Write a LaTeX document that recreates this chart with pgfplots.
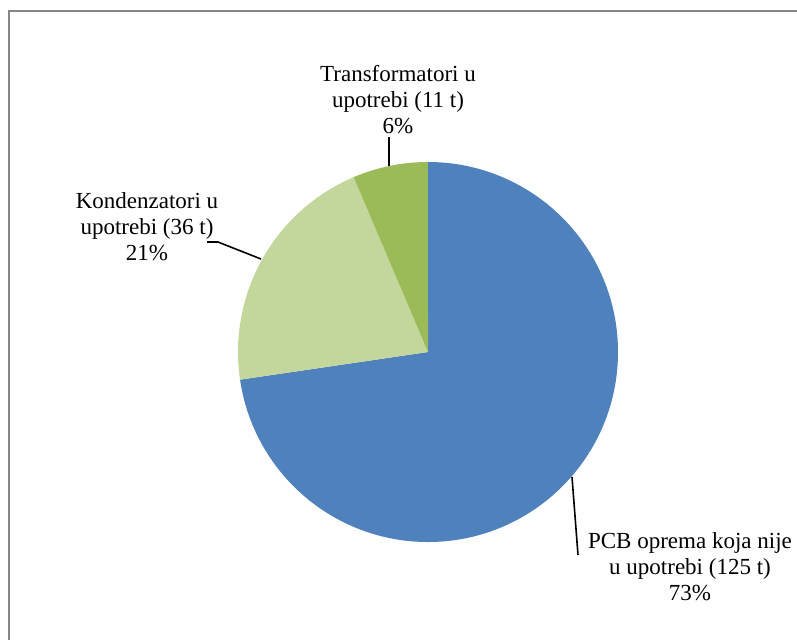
\documentclass[border=0pt]{standalone}
\usepackage{fontspec}
\setmainfont{Liberation Serif}
\usepackage{pgfplots}
\pgfplotsset{compat=1.18}
\definecolor{cblue}{HTML}{4F81BD}
\definecolor{clgreen}{HTML}{C3D69B}
\definecolor{cgreen}{HTML}{9BBB59}
\definecolor{cframe}{HTML}{868686}
\begin{document}
\begin{tikzpicture}
% data (tonnes)
\pgfmathsetmacro{\va}{125}% PCB oprema koja nije u upotrebi
\pgfmathsetmacro{\vb}{36}% Kondenzatori u upotrebi
\pgfmathsetmacro{\vc}{11}% Transformatori u upotrebi
\pgfmathsetmacro{\tot}{\va+\vb+\vc}
\pgfmathsetmacro{\aA}{90}
\pgfmathsetmacro{\aB}{90-360*(\va/\tot)}
\pgfmathsetmacro{\aC}{\aB-360*(\vb/\tot)}
\pgfmathsetmacro{\aD}{\aC-360*(\vc/\tot)}
\begin{axis}[name=ax, x=0.5pt, y=0.5pt, xmin=0, xmax=797, ymin=0, ymax=639,
  y dir=reverse, hide axis, clip=false]
\draw[cframe, line width=1pt] (axis cs:9,660) -- (axis cs:9,11) -- (axis cs:820,11);
\fill[cblue] (axis cs:428,352) -- ++(\aA:95pt) arc[start angle=\aA, end angle=\aB, radius=95pt] -- cycle;
\fill[clgreen] (axis cs:428,352) -- ++(\aB:95pt) arc[start angle=\aB, end angle=\aC, radius=95pt] -- cycle;
\fill[cgreen] (axis cs:428,352) -- ++(\aC:95pt) arc[start angle=\aC, end angle=\aD, radius=95pt] -- cycle;
% leader lines
\draw[black, line width=0.8pt] (axis cs:389,137) -- (axis cs:389,166);
\draw[black, line width=0.8pt] (axis cs:207,242) -- (axis cs:218,242) -- (axis cs:261,259);
\draw[black, line width=0.8pt] (axis cs:572,477) -- (axis cs:578,555);
% labels
\node[align=center, font=\fontsize{11.5}{13}\selectfont] at (axis cs:398,100)
  {Transformatori u\\upotrebi (11 t)\\6\%};
\node[align=center, font=\fontsize{11.5}{13}\selectfont] at (axis cs:147,227)
  {Kondenzatori u\\upotrebi (36 t)\\21\%};
\node[align=center, font=\fontsize{11.5}{13}\selectfont] at (axis cs:690,567)
  {PCB oprema koja nije\\u upotrebi (125 t)\\73\%};
\end{axis}
\pgfresetboundingbox
\path[use as bounding box] (ax.south west) rectangle (ax.north east);
\end{tikzpicture}
\end{document}
